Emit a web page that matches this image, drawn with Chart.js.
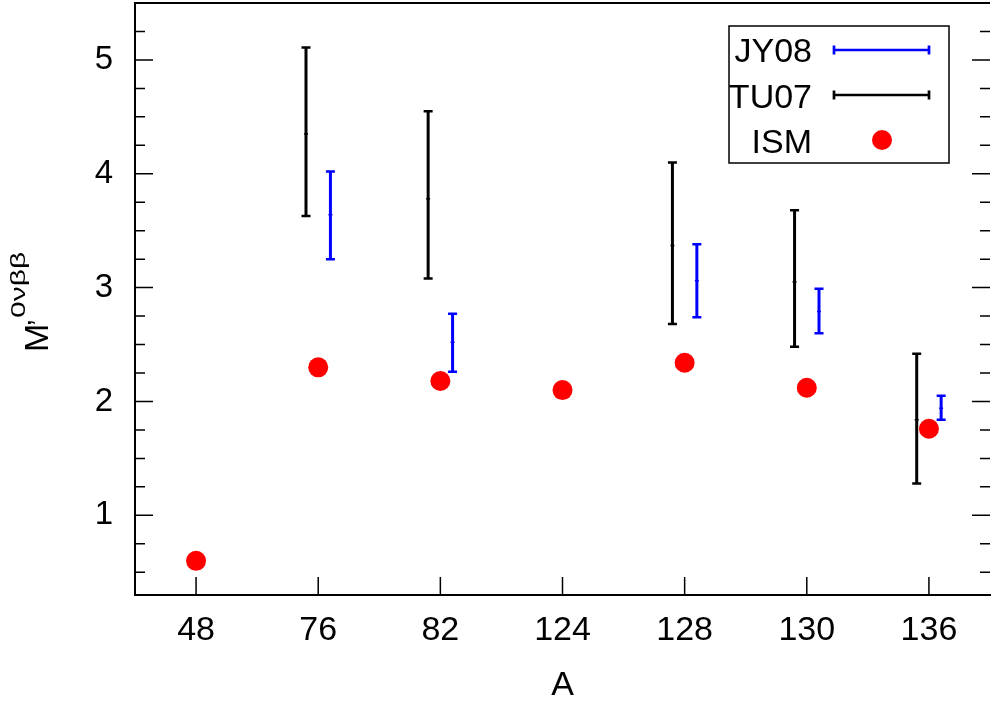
<!DOCTYPE html>
<html lang="en">
<head>
  <meta charset="UTF-8">
  <title>M'0vbb vs A</title>
  <script src="https://cdn.jsdelivr.net/npm/chart.js"></script>
  <style>
    html, body { margin: 0; padding: 0; background: #fff; overflow: hidden; }
    #wrap { width: 1000px; height: 710px; margin-top: -7px; }
  </style>
</head>
<body>
  <div id="wrap"><canvas id="nmeChart"></canvas></div>

  <script>
    // mass numbers on the x axis (category index 0..6)
    const massNumbers = ['48', '76', '82', '124', '128', '130', '136'];
    const yTicks = [1, 2, 3, 4, 5];

    // ISM points
    const ismValues = [0.60, 2.30, 2.18, 2.10, 2.34, 2.12, 1.76];

    // TU07 ranges (null = no value)
    const tu07Low  = [null, 3.63, 3.08, null, 2.68, 2.48, 1.28];
    const tu07Mid  = [null, 4.35, 3.78, null, 3.37, 3.05, 1.84];
    const tu07High = [null, 5.11, 4.55, null, 4.10, 3.68, 2.42];

    // JY08 ranges
    const jy08Low  = [null, 3.25, 2.26, null, 2.74, 2.60, 1.84];
    const jy08Mid  = [null, 3.64, 2.52, null, 3.06, 2.79, 1.94];
    const jy08High = [null, 4.02, 2.77, null, 3.38, 2.99, 2.05];

    const FONT = "'Liberation Sans', Arial, sans-serif";
    const BLUE = '#0000ff';
    const RED = '#ff0000';
    const OFF = 7; // canvas is shifted up by this much

    function points(values, shift) {
      const out = [];
      values.forEach((v, i) => { if (v !== null) out.push({ x: i + shift, y: v }); });
      return out;
    }

    const errSeries = [
      { low: tu07Low, high: tu07High, shift: -0.1, color: '#000' },
      { low: jy08Low, high: jy08High, shift: 0.1, color: BLUE }
    ];

    const errorBars = {
      id: 'errorBars',
      beforeDatasetsDraw(chart) {
        const { ctx, scales: { x, y } } = chart;
        ctx.save();
        errSeries.forEach(s => {
          s.low.forEach((lo, i) => {
            if (lo === null) return;
            const px = x.getPixelForValue(i + s.shift);
            const y1 = y.getPixelForValue(lo);
            const y2 = y.getPixelForValue(s.high[i]);
            ctx.strokeStyle = s.color;
            ctx.lineWidth = 3;
            ctx.beginPath();
            ctx.moveTo(px, y1); ctx.lineTo(px, y2);
            ctx.stroke();
            ctx.lineWidth = 2.5;
            ctx.beginPath();
            ctx.moveTo(px - 4.5, y1); ctx.lineTo(px + 4.5, y1);
            ctx.moveTo(px - 4.5, y2); ctx.lineTo(px + 4.5, y2);
            ctx.stroke();
          });
        });
        ctx.restore();
      }
    };

    const frame = {
      id: 'frame',
      afterDraw(chart) {
        const { ctx, chartArea: a, scales: { x, y } } = chart;
        ctx.save();
        ctx.strokeStyle = '#000';

        // top border
        ctx.lineWidth = 2;
        ctx.beginPath();
        ctx.moveTo(a.left, a.top); ctx.lineTo(a.right, a.top);
        ctx.stroke();

        // inward ticks on y (left and right), majors every 1, minors every 0.25
        ctx.lineWidth = 1.5;
        ctx.beginPath();
        for (let v = 0.5; v <= 5.5; v += 0.25) {
          const py = y.getPixelForValue(v);
          const major = Math.abs(v - Math.round(v)) < 1e-6;
          const len = major ? 18 : 10;
          ctx.moveTo(a.left, py); ctx.lineTo(a.left + len, py);
          ctx.moveTo(a.right, py); ctx.lineTo(a.right - len, py);
        }
        // inward ticks on x
        massNumbers.forEach((m, i) => {
          const px = x.getPixelForValue(i);
          ctx.moveTo(px, a.bottom); ctx.lineTo(px, a.bottom - 18);
        });
        ctx.stroke();

        // y axis title M'^{0νββ}
        ctx.save();
        ctx.translate(48, 352 + OFF);
        ctx.rotate(-Math.PI / 2);
        ctx.fillStyle = '#000';
        ctx.textAlign = 'left';
        ctx.textBaseline = 'alphabetic';
        ctx.font = '34px ' + FONT;
        ctx.fillText('M', 0, 0);
        ctx.font = '30px ' + FONT;
        ctx.fillText('\u2019', 26, 0);
        ctx.translate(34, -23);
        ctx.scale(1.5, 1);
        ctx.font = '20px ' + FONT;
        ctx.fillText('0νββ', 0, 0);
        ctx.restore();

        // legend
        ctx.translate(0, OFF);
        ctx.lineWidth = 1.5;
        ctx.strokeRect(729, 26, 220, 137);
        ctx.fillStyle = '#000';
        ctx.font = '34px ' + FONT;
        ctx.textAlign = 'right';
        ctx.textBaseline = 'alphabetic';
        const rows = [
          { label: 'JY08', y: 50, base: 62, color: BLUE, kind: 'bar' },
          { label: 'TU07', y: 95, base: 107.5, color: '#000', kind: 'bar' },
          { label: 'ISM', y: 140, base: 152.5, color: RED, kind: 'dot' }
        ];
        rows.forEach(r => {
          ctx.fillStyle = '#000';
          ctx.fillText(r.label, 812, r.base);
          if (r.kind === 'bar') {
            ctx.strokeStyle = r.color;
            ctx.lineWidth = 2.7;
            ctx.beginPath();
            ctx.moveTo(834, r.y); ctx.lineTo(929, r.y);
            ctx.moveTo(834, r.y - 4.5); ctx.lineTo(834, r.y + 4.5);
            ctx.moveTo(929, r.y - 4.5); ctx.lineTo(929, r.y + 4.5);
            ctx.stroke();
          } else {
            ctx.fillStyle = r.color;
            ctx.beginPath();
            ctx.arc(882, r.y, 10, 0, Math.PI * 2);
            ctx.fill();
          }
        });
        ctx.restore();
      }
    };

    const ctx = document.getElementById('nmeChart').getContext('2d');
    new Chart(ctx, {
      type: 'scatter',
      data: {
        datasets: [
          {
            label: 'TU07',
            data: points(tu07Mid, -0.1),
            pointStyle: 'line', pointRadius: 2, borderWidth: 1.5,
            borderColor: '#000', backgroundColor: '#000'
          },
          {
            label: 'JY08',
            data: points(jy08Mid, 0.1),
            pointStyle: 'line', pointRadius: 2, borderWidth: 1.5,
            borderColor: BLUE, backgroundColor: BLUE
          },
          {
            label: 'ISM',
            data: points(ismValues, 0),
            pointRadius: 10, borderWidth: 0,
            backgroundColor: RED, borderColor: RED
          }
        ]
      },
      options: {
        responsive: true,
        maintainAspectRatio: false,
        animation: false,
        layout: { padding: { top: 0, right: 6, left: 0, bottom: 0 } },
        plugins: { legend: { display: false }, tooltip: { enabled: false } },
        scales: {
          x: {
            type: 'linear',
            min: -0.5, max: 6.5,
            afterFit: s => { s.height = 108; s.paddingLeft = 0; s.paddingRight = 0; },
            afterBuildTicks: s => { s.ticks = massNumbers.map((m, i) => ({ value: i })); },
            grid: { display: false, drawTicks: false },
            border: { display: true, color: '#000', width: 2 },
            ticks: {
              padding: 15, color: '#000',
              font: { family: FONT, size: 34 },
              callback: v => massNumbers[v]
            },
            title: {
              display: true, text: 'A', color: '#000',
              font: { family: FONT, size: 34 },
              padding: { top: 0, bottom: -3 }
            }
          },
          y: {
            min: 0.3, max: 5.5,
            afterFit: s => { s.width = 135; s.paddingTop = 0; s.paddingBottom = 0; },
            afterBuildTicks: s => { s.ticks = yTicks.map(v => ({ value: v })); },
            grid: { display: false, drawTicks: false },
            border: { display: true, color: '#000', width: 2 },
            ticks: {
              padding: 22, color: '#000',
              font: { family: FONT, size: 33 }
            }
          }
        }
      },
      plugins: [errorBars, frame]
    });
  </script>
</body>
</html>
